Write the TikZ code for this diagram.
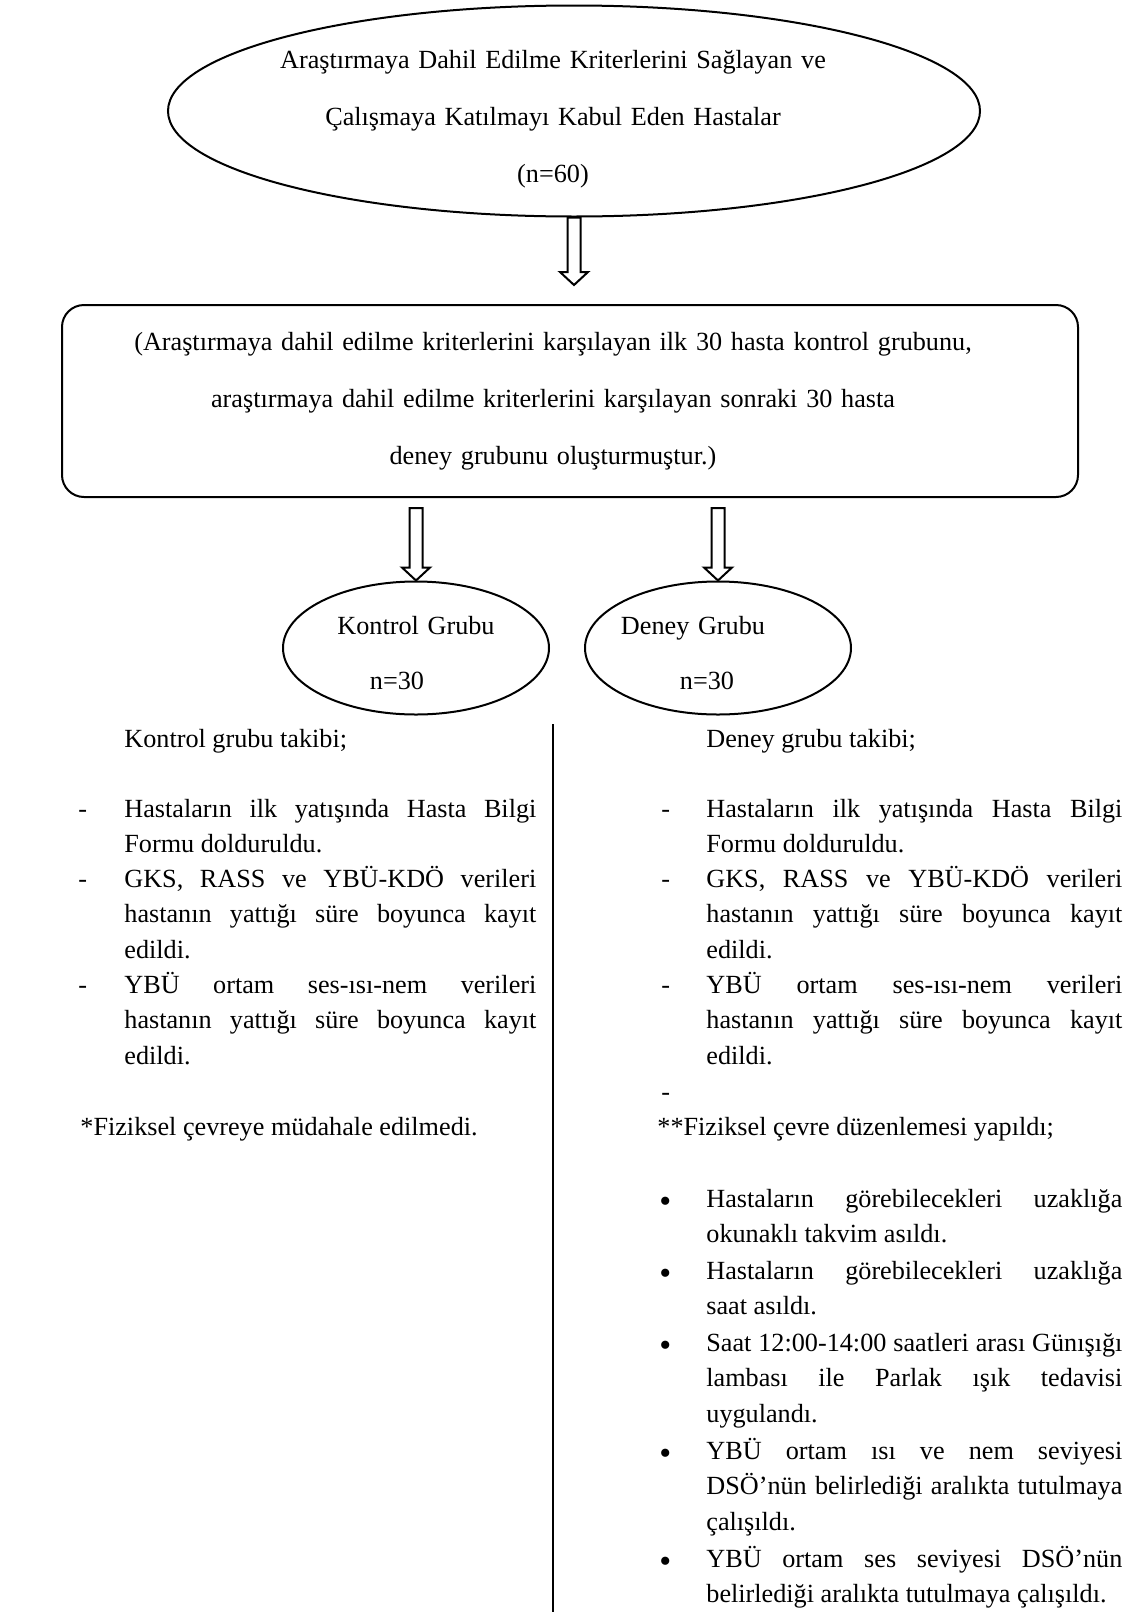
\documentclass[tikz,border=0pt]{standalone}
\usepackage{fontspec}
\setmainfont{Liberation Serif}
\usetikzlibrary{calc,shapes.geometric}

% paragraph settings for the justified columns
\newcommand{\parset}{\hyphenpenalty=10000\relax\exhyphenpenalty=10000\relax
  \tolerance=10000\relax\spaceskip=.25em plus .5em minus .12em\relax}

\tikzset{
  oval/.style={draw, ellipse, line width=1pt, inner sep=0pt},
  roundbox/.style={draw, rectangle, rounded corners=11pt, line width=1pt, inner sep=0pt},
  lbl/.style={anchor=base, align=center, text width=360pt, inner sep=0pt,
    font=\fontsize{13.1pt}{28.5pt}\selectfont},
  txt/.style={anchor=base west, inner sep=0pt, font=\fontsize{13.1pt}{17.8pt}\selectfont},
  para/.style={anchor=base west, inner sep=0pt, align=justify,
    font=\fontsize{13.1pt}{17.8pt}\selectfont\parset},
  lpara/.style={para, text width=206pt},
  rpara/.style={para, text width=208pt},
  dashmark/.style={txt},
  dotmark/.style={txt, yshift=-2.6pt, font=\fontsize{17pt}{17.8pt}\selectfont},
  blockline/.style={draw, fill=white, line width=1pt, line join=miter}
}

% hollow block arrow from #1 (tail) down to #2 (tip)
\newcommand{\blockarrow}[2]{%
  \draw[blockline] let \p1=#1, \p2=#2 in
    (\x1-3.25pt,\y1) -- (\x1+3.25pt,\y1) -- (\x1+3.25pt,\y2+6.5pt) -- (\x1+7pt,\y2+6.5pt)
    -- (\x1,\y2) -- (\x1-7pt,\y2+6.5pt) -- (\x1-3.25pt,\y2+6.5pt) -- cycle;}

\begin{document}
\begin{tikzpicture}[x=0.5pt, y=-0.5pt]
\useasboundingbox (0,0) rectangle (1138,1612);

% top ellipse
\node[oval, minimum width=406pt, minimum height=105.5pt] (top) at (574,111) {};
\node[lbl] (toptext) at (553,68) {Araştırmaya Dahil Edilme Kriterlerini Sağlayan ve\\Çalışmaya Katılmayı Kabul Eden Hastalar\\(n=60)};

% box
\node[roundbox, minimum width=508pt, minimum height=96pt] (box) at (570,401) {};
\node[lbl, text width=480pt] (boxtext) at (553,350) {(Araştırmaya dahil edilme kriterlerini karşılayan ilk 30 hasta kontrol grubunu,\\araştırmaya dahil edilme kriterlerini karşılayan sonraki 30 hasta\\deney grubunu oluşturmuştur.)};

% groups
\node[oval, minimum width=133pt, minimum height=66.5pt] (kontrol) at (416,648) {};
\node[lbl] (ktitle) at (416,634) {Kontrol Grubu};
\node[lbl] (kn) at (397,689) {n=30};
\node[oval, minimum width=133pt, minimum height=66.5pt] (deney) at (718,648) {};
\node[lbl] (dtitle) at (693,634) {Deney Grubu};
\node[lbl] (dn) at (707,689) {n=30};

% arrows
\blockarrow{(top.south)}{($(box.north)+(0,-19)$)}
\blockarrow{($(box.south -| kontrol.north)+(0,10)$)}{(kontrol.north)}
\blockarrow{($(box.south -| deney.north)+(0,10)$)}{(deney.north)}

% divider
\draw[line width=1pt] (553,724) -- (553,1612);

% kontrol column
\node[txt] (khead) at (124,747) {Kontrol grubu takibi;};
\foreach \y/\n in {817/1,887/2,993/3}
  \node[dashmark] (kd\n) at (78,\y) {-};
\node[lpara] (k1) at (124,817) {Hastaların ilk yatışında Hasta Bilgi\linebreak Formu dolduruldu.};
\node[lpara] (k2) at (124,887) {GKS, RASS ve YBÜ-KDÖ verileri\linebreak hastanın yattığı süre boyunca kayıt\linebreak edildi.};
\node[lpara] (k3) at (124,993) {YBÜ ortam ses-ısı-nem verileri\linebreak hastanın yattığı süre boyunca kayıt\linebreak edildi.};
\node[txt] (knote) at (80,1135) {*Fiziksel çevreye müdahale edilmedi.};

% deney column
\node[txt] (dhead) at (706,747) {Deney grubu takibi;};
\foreach \y/\n in {817/1,887/2,993/3,1100/4}
  \node[dashmark] (dd\n) at (661,\y) {-};
\node[rpara] (d1) at (706,817) {Hastaların ilk yatışında Hasta Bilgi\linebreak Formu dolduruldu.};
\node[rpara] (d2) at (706,887) {GKS, RASS ve YBÜ-KDÖ verileri\linebreak hastanın yattığı süre boyunca kayıt\linebreak edildi.};
\node[rpara] (d3) at (706,993) {YBÜ ortam ses-ısı-nem verileri\linebreak hastanın yattığı süre boyunca kayıt\linebreak edildi.};
\node[txt] (dnote) at (657,1135) {**Fiziksel çevre düzenlemesi yapıldı;};

\foreach \y/\n in {1207/1,1279/2,1351/3,1459/4,1567/5}
  \node[dotmark] (dot\n) at (659,\y) {•};
\node[rpara] (b1) at (706,1207) {Hastaların görebilecekleri uzaklığa\linebreak okunaklı takvim asıldı.};
\node[rpara] (b2) at (706,1279) {Hastaların görebilecekleri uzaklığa\linebreak saat asıldı.};
\node[rpara] (b3) at (706,1351) {Saat 12:00-14:00 saatleri arası Günışığı\linebreak lambası ile Parlak ışık tedavisi\linebreak uygulandı.};
\node[rpara] (b4) at (706,1459) {YBÜ ortam ısı ve nem seviyesi\linebreak DSÖ’nün belirlediği aralıkta tutulmaya\linebreak çalışıldı.};
\node[rpara] (b5) at (706,1567) {YBÜ ortam ses seviyesi DSÖ’nün\linebreak belirlediği aralıkta tutulmaya çalışıldı.};
\end{tikzpicture}
\end{document}
